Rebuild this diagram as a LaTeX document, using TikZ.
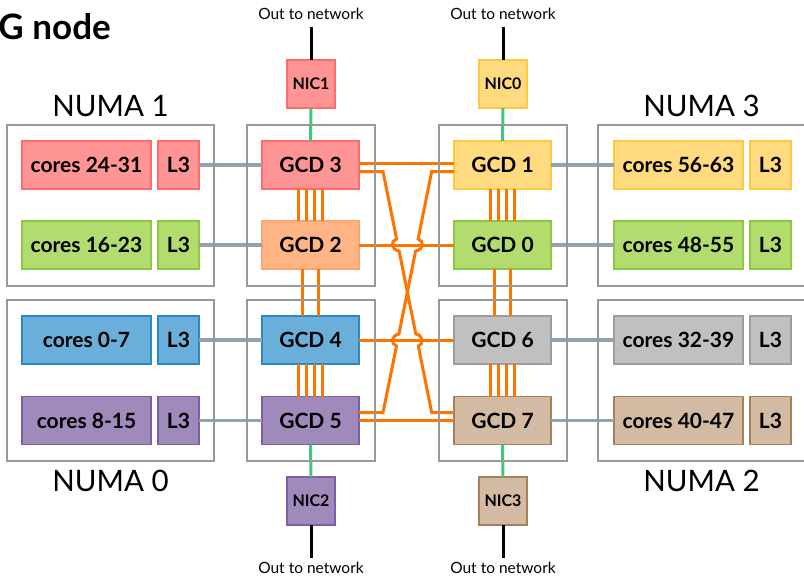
\documentclass[tikz,border=0pt]{standalone}
\usepackage{fontspec}
\setmainfont{Lato}
\usetikzlibrary{positioning}

\definecolor{redfill}{HTML}{FF9494}
\definecolor{redline}{HTML}{FF6B6B}
\definecolor{peachfill}{HTML}{FFB486}
\definecolor{peachline}{HTML}{FFA36F}
\definecolor{yellowfill}{HTML}{FFDA7F}
\definecolor{yellowline}{HTML}{FFC83D}
\definecolor{greenfill}{HTML}{B3DC6F}
\definecolor{greenline}{HTML}{8DC63F}
\definecolor{bluefill}{HTML}{6AAFDA}
\definecolor{blueline}{HTML}{2A8AC8}
\definecolor{purplefill}{HTML}{A08ABB}
\definecolor{purpleline}{HTML}{7B5EA7}
\definecolor{grayfill}{HTML}{C0C0C0}
\definecolor{grayline}{HTML}{9C9C9C}
\definecolor{tanfill}{HTML}{D3BAA2}
\definecolor{tanline}{HTML}{A7805A}
\definecolor{fabric}{HTML}{FF7300}
\definecolor{cpulinkcol}{HTML}{8FA3B1}
\definecolor{niclinkcol}{HTML}{3CC97E}
\definecolor{numaline}{HTML}{999999}

\tikzset{
  numa/.style={draw=numaline, line width=1.8pt, minimum width=207pt, minimum height=161pt, inner sep=0pt, outer sep=0pt},
  numalabel/.style={font=\fontsize{29.5}{34}\selectfont, inner sep=0pt, text depth=0pt},
  cores/.style={draw=#1line, fill=#1fill, line width=1.3pt, minimum width=129pt, minimum height=48pt, inner sep=0pt, outer sep=0pt, font=\fontsize{21}{24}\selectfont\bfseries},
  cache/.style={cores=#1, minimum width=41pt},
  gcd/.style={cores=#1, minimum width=97pt},
  nic/.style={draw=#1line, fill=#1fill, line width=2.8pt, minimum size=48pt, inner sep=0pt, outer sep=0pt, font=\fontsize{16}{18}\selectfont\bfseries},
  net/.style={font=\fontsize{15.5}{18}\selectfont, inner sep=0pt},
  title/.style={font=\fontsize{35}{40}\selectfont\bfseries, inner sep=0pt},
  xgmi/.style={draw=fabric, line width=3pt},
  cpulink/.style={draw=cpulinkcol, line width=3.2pt},
  niclink/.style={draw=niclinkcol, line width=3pt},
  netlink/.style={draw=black, line width=3pt}
}

\begin{document}
\begin{tikzpicture}[x=1pt, y=-1pt]
  \useasboundingbox[fill=white] (0,0) rectangle (804,578);
  \clip (0,0) rectangle (804,578);

  \node[title, anchor=base east] (title) at (111,40) {G node};

  % CPU dies, two per NUMA domain
  \node[cores=red] (c24) at (86.5,165) {cores 24-31};
  \node[cache=red, right=7pt of c24] (l3c24) {L3};
  \node[cores=green] (c16) at (86.5,245) {cores 16-23};
  \node[cache=green, right=7pt of c16] (l3c16) {L3};
  \node[cores=blue] (c0) at (86.5,340) {cores 0-7};
  \node[cache=blue, right=7pt of c0] (l3c0) {L3};
  \node[cores=purple] (c8) at (86.5,420.5) {cores 8-15};
  \node[cache=purple, right=7pt of c8] (l3c8) {L3};

  \node[cores=yellow] (c56) at (678.5,165) {cores 56-63};
  \node[cache=yellow, right=7pt of c56] (l3c56) {L3};
  \node[cores=green] (c48) at (678.5,245) {cores 48-55};
  \node[cache=green, right=7pt of c48] (l3c48) {L3};
  \node[cores=gray] (c32) at (678.5,340) {cores 32-39};
  \node[cache=gray, right=7pt of c32] (l3c32) {L3};
  \node[cores=tan] (c40) at (678.5,420.5) {cores 40-47};
  \node[cache=tan, right=7pt of c40] (l3c40) {L3};

  % GPU dies
  \node[gcd=red] (g3) at (310.5,165) {GCD 3};
  \node[gcd=peach] (g2) at (310.5,245) {GCD 2};
  \node[gcd=blue] (g4) at (310.5,340) {GCD 4};
  \node[gcd=purple] (g5) at (310.5,420.5) {GCD 5};
  \node[gcd=yellow] (g1) at (502.5,165) {GCD 1};
  \node[gcd=green] (g0) at (502.5,245) {GCD 0};
  \node[gcd=gray] (g6) at (502.5,340) {GCD 6};
  \node[gcd=tan] (g7) at (502.5,420.5) {GCD 7};

  % network cards
  \node[nic=red] (nic1) at (311,84) {NIC1};
  \node[nic=yellow] (nic0) at (503,84) {NIC0};
  \node[nic=purple] (nic2) at (311,501) {NIC2};
  \node[nic=tan] (nic3) at (503,501) {NIC3};

  \node[net] (out1) at (311,14) {Out to network};
  \node[net] (out0) at (503,14) {Out to network};
  \node[net] (out2) at (311,568) {Out to network};
  \node[net] (out3) at (503,568) {Out to network};
  \coordinate (o1) at (311,27);
  \coordinate (o0) at (503,27);
  \coordinate (o2) at (311,558);
  \coordinate (o3) at (503,558);

  \draw[netlink] (o1) -- (nic1);
  \draw[netlink] (o0) -- (nic0);
  \draw[netlink] (nic2) -- (o2);
  \draw[netlink] (nic3) -- (o3);

  \draw[niclink] (nic1) -- (g3);
  \draw[niclink] (nic0) -- (g1);
  \draw[niclink] (g5) -- (nic2);
  \draw[niclink] (g7) -- (nic3);

  % CPU to GPU
  \draw[cpulink] (l3c24) -- (g3);
  \draw[cpulink] (l3c16) -- (g2);
  \draw[cpulink] (l3c0) -- (g4);
  \draw[cpulink] (l3c8) -- (g5);
  \draw[cpulink] (g1) -- (c56);
  \draw[cpulink] (g0) -- (c48);
  \draw[cpulink] (g6) -- (c32);
  \draw[cpulink] (g7) -- (c40);

  % GPU to GPU
  \foreach \dx in {-12,-4,4,12} {
    \draw[xgmi] ([xshift=\dx pt]g3.south) -- ([xshift=\dx pt]g2.north);
    \draw[xgmi] ([xshift=\dx pt]g4.south) -- ([xshift=\dx pt]g5.north);
    \draw[xgmi] ([xshift=\dx pt]g1.south) -- ([xshift=\dx pt]g0.north);
    \draw[xgmi] ([xshift=\dx pt]g6.south) -- ([xshift=\dx pt]g7.north);
  }
  \foreach \dx in {-8,8} {
    \draw[xgmi] ([xshift=\dx pt]g2.south) -- ([xshift=\dx pt]g4.north);
    \draw[xgmi] ([xshift=\dx pt]g0.south) -- ([xshift=\dx pt]g6.north);
  }
  \draw[xgmi] ([yshift=1.5pt]g3.east) -- ([yshift=1.5pt]g1.west);
  \draw[xgmi] (g2) -- (g0);
  \draw[xgmi] (g4) -- (g6);
  \draw[xgmi] (g5) -- (g7);
  % crossing links, hopping over the straight ones
  \draw[xgmi] ([yshift=-6.5pt]g3.east) -- (383,171.5) -- (396.6,239)
    .. controls (390.5,240.5) and (390.5,249.5) .. (399.1,251) -- (415.8,334)
    .. controls (423.8,335.5) and (423.8,344.5) .. (418.3,346) -- (431.7,412.5)
    -- ([yshift=8pt]g7.west);
  \draw[xgmi] ([yshift=-6.5pt]g1.west) -- (431.7,171.5) -- (418.1,239)
    .. controls (424.2,240.5) and (424.2,249.5) .. (415.6,251) -- (398.9,334)
    .. controls (390.9,335.5) and (390.9,344.5) .. (396.5,346) -- (383,412.5)
    -- ([yshift=8pt]g5.east);

  % NUMA domains and GPU packages
  \node[numa] (n1) at (110.5,205.5) {};
  \node[numa] (n0) at (110.5,380.5) {};
  \node[numa] (n3) at (701.5,205.5) {};
  \node[numa] (n2) at (701.5,380.5) {};
  \node[numa, minimum width=128pt] (p1) at (311,205.5) {};
  \node[numa, minimum width=128pt] (p0) at (311,380.5) {};
  \node[numa, minimum width=128pt] (p3) at (503,205.5) {};
  \node[numa, minimum width=128pt] (p2) at (503,380.5) {};

  \node[numalabel, above=8pt of n1] {NUMA 1};
  \node[numalabel, above=8pt of n3] {NUMA 3};
  \node[numalabel, below=9pt of n0, anchor=north] {NUMA 0};
  \node[numalabel, below=9pt of n2, anchor=north] {NUMA 2};
\end{tikzpicture}
\end{document}
